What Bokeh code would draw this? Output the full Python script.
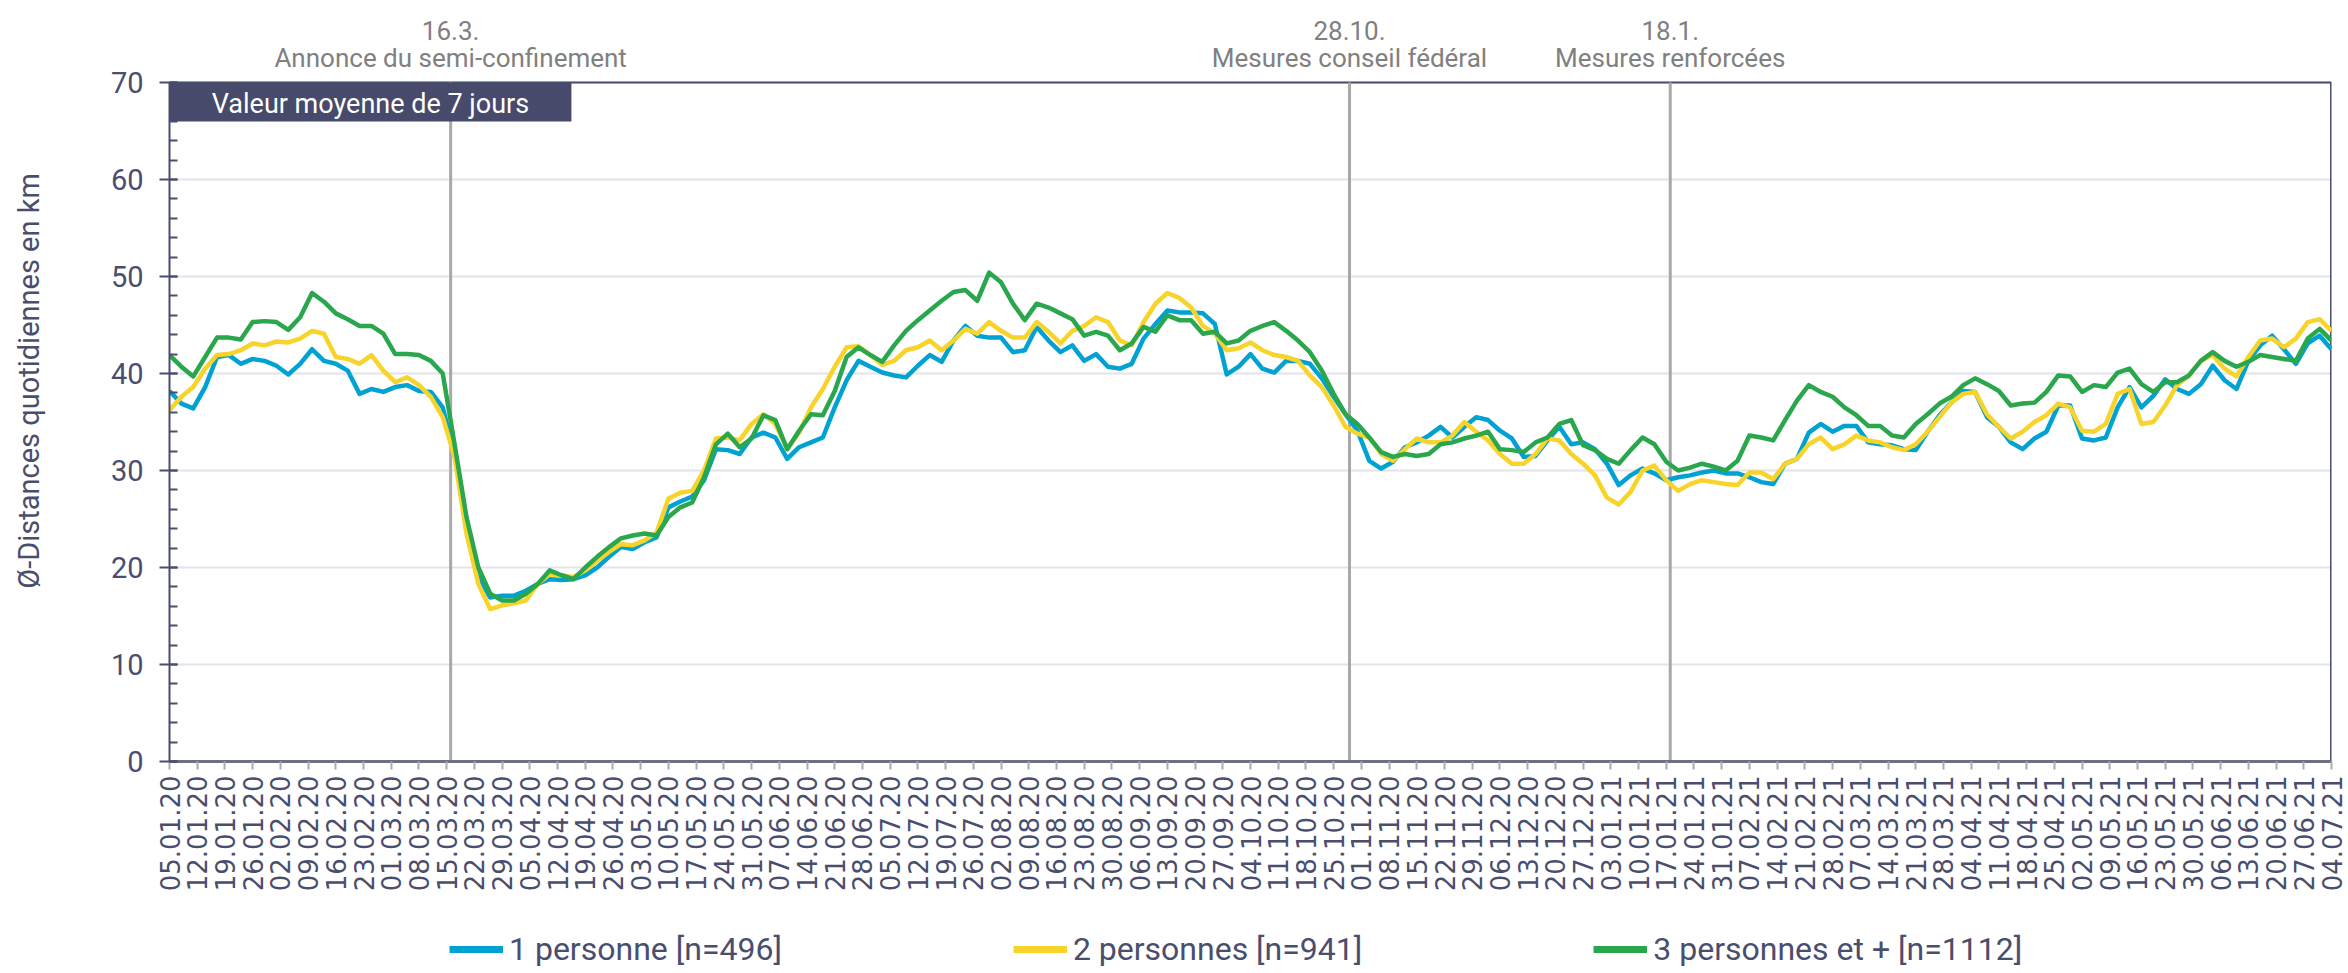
import math
import pandas as pd
from bokeh.plotting import figure
from bokeh.layouts import column
from bokeh.models import (FixedTicker, SingleIntervalTicker, DatetimeTickFormatter,
                          Label, BoxAnnotation, Legend, LegendItem, Range1d)
from bokeh.embed import file_html
from bokeh.resources import INLINE

# ---------------- data (7-day averages, read every 3 days from 05.01.2020) ----------------
start_date = "2020-01-05"
end_date = "2021-07-04"
sample_step = "3D"

one_person = [
    38.2, 36.9, 36.4, 38.6, 41.7, 41.9, 41.0, 41.5, 41.3, 40.8, 39.9, 41.0, 42.5, 41.3, 41.0, 40.3, 37.9, 38.4, 38.1, 38.6,
    38.8, 38.2, 38.1, 36.5, 31.7, 24.2, 19.0, 16.9, 17.1, 17.1, 17.6, 18.3, 18.8, 18.7, 18.8, 19.2, 20.0, 21.1, 22.1, 21.9,
    22.6, 23.1, 26.2, 26.8,
    27.3, 29.0, 32.2, 32.1, 31.7, 33.4, 33.9, 33.4, 31.2, 32.4, 32.9, 33.4, 36.5, 39.3, 41.3, 40.7, 40.1, 39.8, 39.6, 40.8,
    41.9, 41.2, 43.4, 44.9, 43.9, 43.7, 43.7, 42.2, 42.4, 44.8, 43.4, 42.2, 42.9, 41.3, 42.0, 40.7, 40.5, 41.0, 43.6, 45.1,
    46.5, 46.3,
    46.3, 46.2, 45.1, 39.9, 40.7, 42.0, 40.5, 40.1, 41.3, 41.3, 41.0, 39.5, 37.6, 35.8, 34.1, 31.0, 30.2, 30.9, 32.4, 32.9,
    33.6, 34.5, 33.4, 34.5, 35.5, 35.2, 34.1, 33.3, 31.4, 31.5, 33.1, 34.5, 32.7, 32.9, 32.2, 30.7, 28.5, 29.5, 30.2, 29.7,
    29.0, 29.3, 29.5,
    29.8, 30.0, 29.7, 29.7, 29.3, 28.8, 28.6, 30.7, 31.2, 33.9, 34.8, 34.0, 34.6, 34.6, 32.9, 32.7, 32.6, 32.2, 32.1, 34.0,
    35.7, 37.0, 38.2, 38.1, 35.5, 34.5, 32.9, 32.2, 33.3, 34.0, 36.7, 36.7, 33.3, 33.1, 33.4, 36.5, 38.6, 36.5, 37.7, 39.4,
    38.4, 37.9, 38.9, 40.8, 39.3, 38.4, 41.3, 42.9, 43.9, 42.5, 41.0, 43.1, 43.9, 42.5,
]

two_persons = [
    36.2, 37.6, 38.6, 40.5, 41.9, 42.0, 42.4, 43.1, 42.9, 43.3, 43.2, 43.6, 44.4, 44.1, 41.7, 41.5, 41.0, 41.9, 40.3, 39.1,
    39.6, 38.8, 37.6, 35.5, 31.4, 23.5, 18.3, 15.7, 16.1, 16.3, 16.6, 18.3, 19.3, 19.2, 19.0, 19.7, 20.7, 21.6, 22.4, 22.3,
    22.8, 23.6, 27.1, 27.7,
    27.9, 30.0, 33.3, 33.4, 33.1, 34.8, 35.8, 34.8, 32.2, 33.9, 36.5, 38.4, 40.7, 42.7, 42.8, 41.9, 40.9, 41.3, 42.4, 42.7,
    43.4, 42.4, 43.4, 44.6, 44.1, 45.3, 44.4, 43.7, 43.7, 45.3, 44.3, 43.1, 44.4, 44.9, 45.8, 45.3, 43.4, 42.9, 45.3, 47.2,
    48.3, 47.8,
    46.8, 44.9, 44.1, 42.4, 42.6, 43.2, 42.4, 41.9, 41.7, 41.3, 39.8, 38.6, 36.7, 34.5, 33.8, 33.4, 31.7, 31.0, 32.2, 33.3,
    32.9, 32.9, 33.6, 35.0, 34.0, 33.1, 31.7, 30.7, 30.7, 31.7, 33.3, 33.1, 31.7, 30.7, 29.5, 27.2, 26.5, 27.8, 30.0, 30.5,
    29.0, 27.9, 28.6,
    29.0, 28.8, 28.6, 28.5, 29.8, 29.8, 29.1, 30.7, 31.2, 32.7, 33.4, 32.2, 32.7, 33.6, 33.1, 32.9, 32.4, 32.1, 32.7, 34.0,
    35.5, 37.0, 37.9, 38.1, 35.8, 34.5, 33.3, 34.0, 35.0, 35.7, 36.9, 36.5, 34.1, 34.0, 34.8, 37.9, 38.4, 34.8, 35.0, 36.7,
    38.8, 39.8, 41.3, 41.9, 40.5, 39.7, 41.7, 43.4, 43.6, 42.7, 43.6, 45.3, 45.6, 44.4,
]

three_plus = [
    41.9, 40.7, 39.7, 41.7, 43.7, 43.7, 43.5, 45.3, 45.4, 45.3, 44.5, 45.8, 48.3, 47.4, 46.2, 45.6, 44.9, 44.9, 44.1, 42.0,
    42.0, 41.9, 41.3, 40.0, 32.7, 25.2, 20.0, 17.3, 16.6, 16.6, 17.3, 18.3, 19.7, 19.2, 18.8, 20.0, 21.1, 22.1, 23.0, 23.3,
    23.5, 23.3, 25.2, 26.2,
    26.7, 29.3, 32.7, 33.8, 32.4, 33.3, 35.7, 35.2, 32.2, 34.1, 35.8, 35.7, 38.2, 41.7, 42.7, 41.9, 41.2, 42.9, 44.4, 45.5,
    46.5, 47.5, 48.4, 48.6, 47.5, 50.4, 49.4, 47.2, 45.5, 47.2, 46.8, 46.2, 45.6, 43.9, 44.3, 43.9, 42.4, 43.1, 44.8, 44.3,
    46.0, 45.5,
    45.5, 44.1, 44.3, 43.1, 43.4, 44.4, 44.9, 45.3, 44.4, 43.4, 42.2, 40.3, 37.9, 35.8, 34.8, 33.4, 31.9, 31.4, 31.7, 31.5,
    31.7, 32.7, 32.9, 33.3, 33.6, 34.0, 32.2, 32.1, 31.9, 32.9, 33.4, 34.8, 35.2, 32.6, 32.1, 31.2, 30.7, 32.1, 33.4, 32.7,
    30.9, 30.0, 30.3,
    30.7, 30.4, 30.0, 31.0, 33.6, 33.4, 33.1, 35.2, 37.2, 38.8, 38.1, 37.6, 36.5, 35.7, 34.6, 34.6, 33.6, 33.4, 34.8, 35.8,
    36.9, 37.6, 38.8, 39.5, 38.9, 38.2, 36.7, 36.9, 37.0, 38.1, 39.8, 39.7, 38.1, 38.8, 38.6, 40.1, 40.5, 38.9, 38.1, 39.1,
    39.1, 39.8, 41.3, 42.2, 41.3, 40.7, 41.2, 41.9, 41.7, 41.5, 41.3, 43.6, 44.6, 43.4,
]

series_names = ["1 personne [n=496]", "2 personnes [n=941]", "3 personnes et + [n=1112]"]
series_colors = ["#00a1d3", "#f8d32a", "#2aa64d"]

event_dates = ["2020-03-16", "2020-10-29", "2021-01-18"]
event_day_labels = ["16.3.", "28.10.", "18.1."]
event_texts = ["Annonce du semi-confinement", "Mesures conseil fédéral", "Mesures renforcées"]

box_text = "Valeur moyenne de 7 jours"
y_axis_label = "Ø-Distances quotidiennes en km"
y_max = 70

# ---------------- helpers ----------------
def ms(d):
    return pd.Timestamp(d).timestamp() * 1000.0

dates = pd.date_range(start_date, periods=len(one_person), freq=sample_step)
tick_dates = pd.date_range(start_date, end_date, freq="7D")

FONT = "Roboto"
TXT = "#4a4e6e"
W = 2346
LEFT = 169
FRAME_TOP_PX = 82      # where y=70 sits below the top of the figure
FRAME_H_PX = 679       # pixels for 0..70
px_per_unit = FRAME_H_PX / y_max
y_top = y_max + FRAME_TOP_PX / px_per_unit

p = figure(width=W, height=761 + 168, x_axis_type="datetime",
           x_range=Range1d(ms(start_date), ms(end_date)), y_range=Range1d(0, y_top),
           output_backend="svg", toolbar_location=None,
           min_border_left=LEFT, min_border_right=W - 2331, min_border_top=0, min_border_bottom=168)
p.background_fill_color = "white"
p.border_fill_color = "white"
p.outline_line_color = None

# grid
p.xgrid.grid_line_color = None
p.ygrid.grid_line_color = "#e3e3ec"
p.ygrid.grid_line_width = 2

# y axis
p.yaxis.ticker = SingleIntervalTicker(interval=10, num_minor_ticks=5)
p.yaxis.bounds = (0, y_max)
p.yaxis.axis_line_color = TXT
p.yaxis.axis_line_width = 2
p.yaxis.major_tick_line_color = TXT
p.yaxis.major_tick_line_width = 2
p.yaxis.major_tick_in = 8
p.yaxis.major_tick_out = 10
p.yaxis.minor_tick_line_color = TXT
p.yaxis.minor_tick_line_width = 2
p.yaxis.minor_tick_in = 8
p.yaxis.minor_tick_out = 0
p.yaxis.major_label_standoff = 16
p.yaxis.major_label_text_font = FONT
p.yaxis.major_label_text_font_size = "29px"
p.yaxis.major_label_text_color = TXT
p.yaxis.axis_label = y_axis_label
p.yaxis.axis_label_text_font = FONT
p.yaxis.axis_label_text_font_size = "29px"
p.yaxis.axis_label_text_font_style = "normal"
p.yaxis.axis_label_text_color = TXT
p.yaxis.axis_label_standoff = 62

# x axis
p.xaxis.ticker = FixedTicker(ticks=[ms(d) for d in tick_dates])
fmt = "%d.%m.%y"
p.xaxis.formatter = DatetimeTickFormatter(days=fmt, months=fmt, years=fmt, hours=fmt,
                                          hourmin=fmt, minutes=fmt, seconds=fmt)
p.xaxis.major_label_orientation = math.pi / 2
p.xaxis.axis_line_color = "#6d7082"
p.xaxis.axis_line_width = 3
p.xaxis.major_tick_line_color = "#a9aab4"
p.xaxis.major_tick_line_width = 2
p.xaxis.major_tick_in = 0
p.xaxis.major_tick_out = 8
p.xaxis.minor_tick_line_color = None
p.xaxis.major_label_standoff = 6
p.xaxis.major_label_text_font = "DejaVu Sans"
p.xaxis.major_label_text_font_size = "26px"
p.xaxis.major_label_text_color = TXT

# plot-area border on top and right (ends at 70)
p.segment(x0=[ms(start_date)], x1=[ms(end_date)], y0=[y_max], y1=[y_max], line_color=TXT, line_width=2)
p.segment(x0=[ms(end_date)], x1=[ms(end_date)], y0=[0], y1=[y_max], line_color=TXT, line_width=3)

# event lines and labels
ev_ms = [ms(d) for d in event_dates]
p.segment(x0=ev_ms, x1=ev_ms, y0=[0] * len(ev_ms), y1=[y_max] * len(ev_ms),
          line_color="#a8a8a8", line_width=3)
y_line1 = y_max + (FRAME_TOP_PX - 30) / px_per_unit
y_line2 = y_max + (FRAME_TOP_PX - 57) / px_per_unit
for x, lab1, lab2 in zip(ev_ms, event_day_labels, event_texts):
    p.add_layout(Label(x=x, y=y_line1, text=lab1, text_align="center", text_baseline="middle",
                       text_font=FONT, text_font_size="26px", text_color="#808080"))
    p.add_layout(Label(x=x, y=y_line2, text=lab2, text_align="center", text_baseline="middle",
                       text_font=FONT, text_font_size="26px", text_color="#808080"))

# info box
box_end = (pd.Timestamp(start_date) + pd.Timedelta(days=101.5)).timestamp() * 1000.0
box_mid = (pd.Timestamp(start_date) + pd.Timedelta(days=50.75)).timestamp() * 1000.0
p.add_layout(BoxAnnotation(left=ms(start_date), right=box_end, top=y_max, bottom=y_max - 39 / px_per_unit,
                           fill_color="#474a6a", fill_alpha=1.0, line_color=None, level="overlay"))
p.add_layout(Label(x=box_mid, y=y_max - 21 / px_per_unit, text=box_text, text_align="center",
                   text_baseline="middle", text_font=FONT, text_font_size="27px",
                   text_color="white", level="overlay"))

# series
for vals, col in zip([one_person, two_persons, three_plus], series_colors):
    p.line(x=dates, y=vals, line_color=col, line_width=4.5, line_join="round")

# ---------------- legend strip (frame aligned with the chart by the column layout) ----------------
lg = figure(width=W, height=42, x_range=Range1d(0, 1), y_range=Range1d(0, 1),
            output_backend="svg", toolbar_location=None,
            x_axis_location=None, y_axis_location=None,
            min_border_left=0, min_border_right=0, min_border_top=0, min_border_bottom=0)
lg.outline_line_color = None
lg.grid.visible = False
lg.background_fill_color = "white"
lg.border_fill_color = "white"
# legend keys: line renderers placed outside the visible range so only their legend sample shows
proxies = [lg.line(x=[5, 6], y=[5, 5], line_color=c, line_width=7) for c in series_colors]
legend = Legend(items=[LegendItem(label=n, renderers=[r]) for n, r in zip(series_names, proxies)],
                orientation="horizontal", location=(449 - LEFT, 3), spacing=231,
                glyph_width=54, glyph_height=30, label_standoff=6, padding=0, margin=0,
                border_line_alpha=0, background_fill_alpha=0,
                label_text_font=FONT, label_text_font_size="32px", label_text_color=TXT)
lg.add_layout(legend, "center")

layout = column(p, lg, spacing=0)
open("out.html", "w").write(file_html(layout, INLINE))
